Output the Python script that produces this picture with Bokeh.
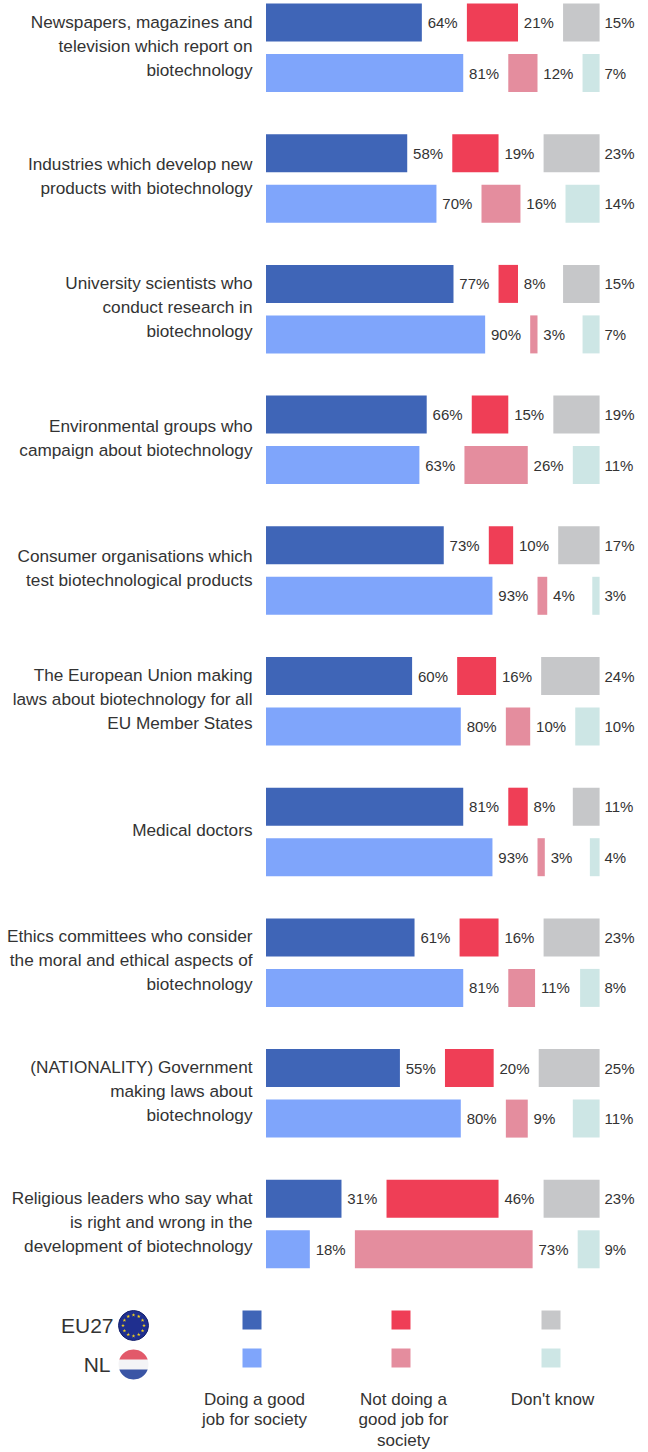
from bokeh.plotting import figure
from bokeh.models import Range1d, ColumnDataSource
from bokeh.core.properties import value
from bokeh.embed import file_html
from bokeh.resources import INLINE
import math

categories = [
    "Newspapers, magazines and\ntelevision which report on\nbiotechnology",
    "Industries which develop new\nproducts with biotechnology",
    "University scientists who\nconduct research in\nbiotechnology",
    "Environmental groups who\ncampaign about biotechnology",
    "Consumer organisations which\ntest biotechnological products",
    "The European Union making\nlaws about biotechnology for all\nEU Member States",
    "Medical doctors",
    "Ethics committees who consider\nthe moral and ethical aspects of\nbiotechnology",
    "(NATIONALITY) Government\nmaking laws about\nbiotechnology",
    "Religious leaders who say what\nis right and wrong in the\ndevelopment of biotechnology",
]
eu_good = [64, 58, 77, 66, 73, 60, 81, 61, 55, 31]
eu_not = [21, 19, 8, 15, 10, 16, 8, 16, 20, 46]
eu_dk = [15, 23, 15, 19, 17, 24, 11, 23, 25, 23]
nl_good = [81, 70, 90, 63, 93, 80, 93, 81, 80, 18]
nl_not = [12, 16, 3, 26, 4, 10, 3, 11, 9, 73]
nl_dk = [7, 14, 7, 11, 3, 10, 4, 8, 11, 9]
legend_labels = ["Doing a good\njob for society", "Not doing a\ngood job for\nsociety", "Don't know"]
series_labels = ["EU27", "NL"]

EU_COLORS = ["#3f65b7", "#ef3e56", "#c6c7c9"]
NL_COLORS = ["#7fa5fb", "#e48d9e", "#cde6e5"]
TXT = "#333333"
FONT = "Liberation Sans"

W, H = 648, 1452
X0, PPU, GAP = 265.5, 2.435, 18.5
PITCH, EU_C, NL_C, BAR_H = 130.7, 22.0, 72.5, 38.0


def px(x):
    return (x - X0) / PPU


p = figure(width=W, height=H, output_backend="svg", toolbar_location=None,
           x_range=Range1d(px(0), px(W)), y_range=Range1d(H, 0),
           min_border=0, outline_line_color=None, background_fill_color="white")
p.axis.visible = False
p.grid.visible = False

rows = [(EU_C, EU_COLORS, eu_good, eu_not, eu_dk), (NL_C, NL_COLORS, nl_good, nl_not, nl_dk)]
for offs, colors, good, bad, dk in rows:
    ys = [offs + PITCH * i for i in range(len(categories))]
    start = [0.0] * len(good)
    for k, vals in enumerate((good, bad, dk)):
        ends = [s + v for s, v in zip(start, vals)]
        p.hbar(y=ys, left=start, right=ends, height=BAR_H, color=colors[k], line_color=None)
        lab = ColumnDataSource(dict(
            x=[e + 2.4 for e in ends] if k < 2 else [px(604)] * len(ends),
            y=ys, t=[f"{v}%" for v in vals]))
        p.text("x", "y", text="t", source=lab, text_font=value(FONT), text_font_size="15px",
               text_color=TXT, text_baseline="middle", text_align="left")
        start = [e + GAP for e in ends]

cat_y = [EU_C + 23.0 + PITCH * i for i in range(len(categories))]
p.text(x=[px(252)] * len(categories), y=cat_y, text=categories, text_font=value(FONT),
       text_font_size="17.2px", text_color=TXT, text_align="right", text_baseline="middle",
       text_line_height=1.2)

# legend
leg_x = [251.5, 400.5, 550.5]
for k in range(3):
    for y, cols in ((1319.5, EU_COLORS), (1357.5, NL_COLORS)):
        p.rect(x=[px(leg_x[k])], y=[y], width=19 / PPU, height=19, color=cols[k], line_color=None)
text_x = [254, 403, 552]
p.text(x=[px(v) for v in text_x], y=[1389] * 3, text=legend_labels, text_font=value(FONT),
       text_font_size="17px", text_color=TXT, text_align="center", text_baseline="top",
       text_line_height=1.1)
p.text(x=[px(113), px(110)], y=[1325, 1364], text=series_labels, text_font=value(FONT),
       text_font_size="21px", text_color=TXT, text_align="right", text_baseline="middle")

# flags
R = 15.0
p.ellipse(x=[px(133)], y=[1325], width=2 * R / PPU, height=2 * R, color="#1f2f8f", line_color="#16226e")
star_x = [133 + 10.5 * math.cos(i * math.pi / 6) for i in range(12)]
star_y = [1325 + 10.5 * math.sin(i * math.pi / 6) for i in range(12)]
p.scatter(x=[px(v) for v in star_x], y=star_y, marker="star", size=4, color="#f2d21f", line_color=None)
p.ellipse(x=[px(133)], y=[1364], width=2 * R / PPU, height=2 * R, color="#f4f4f6", line_color=None)
for (y1, y2, c) in ((1349, 1359, "#e2596a"), (1369, 1379, "#3a55a5")):
    steps = 24
    xs, ys = [], []
    for i in range(steps + 1):
        y = y1 + (y2 - y1) * i / steps
        xs.append(133 + math.sqrt(max(R * R - (y - 1364) ** 2, 0)))
        ys.append(y)
    xl = [133 - (v - 133) for v in xs][::-1]
    yl = ys[::-1]
    p.patch(x=[px(v) for v in xs + xl], y=ys + yl, color=c, line_color=None)

open("out.html", "w").write(file_html(p, INLINE))
